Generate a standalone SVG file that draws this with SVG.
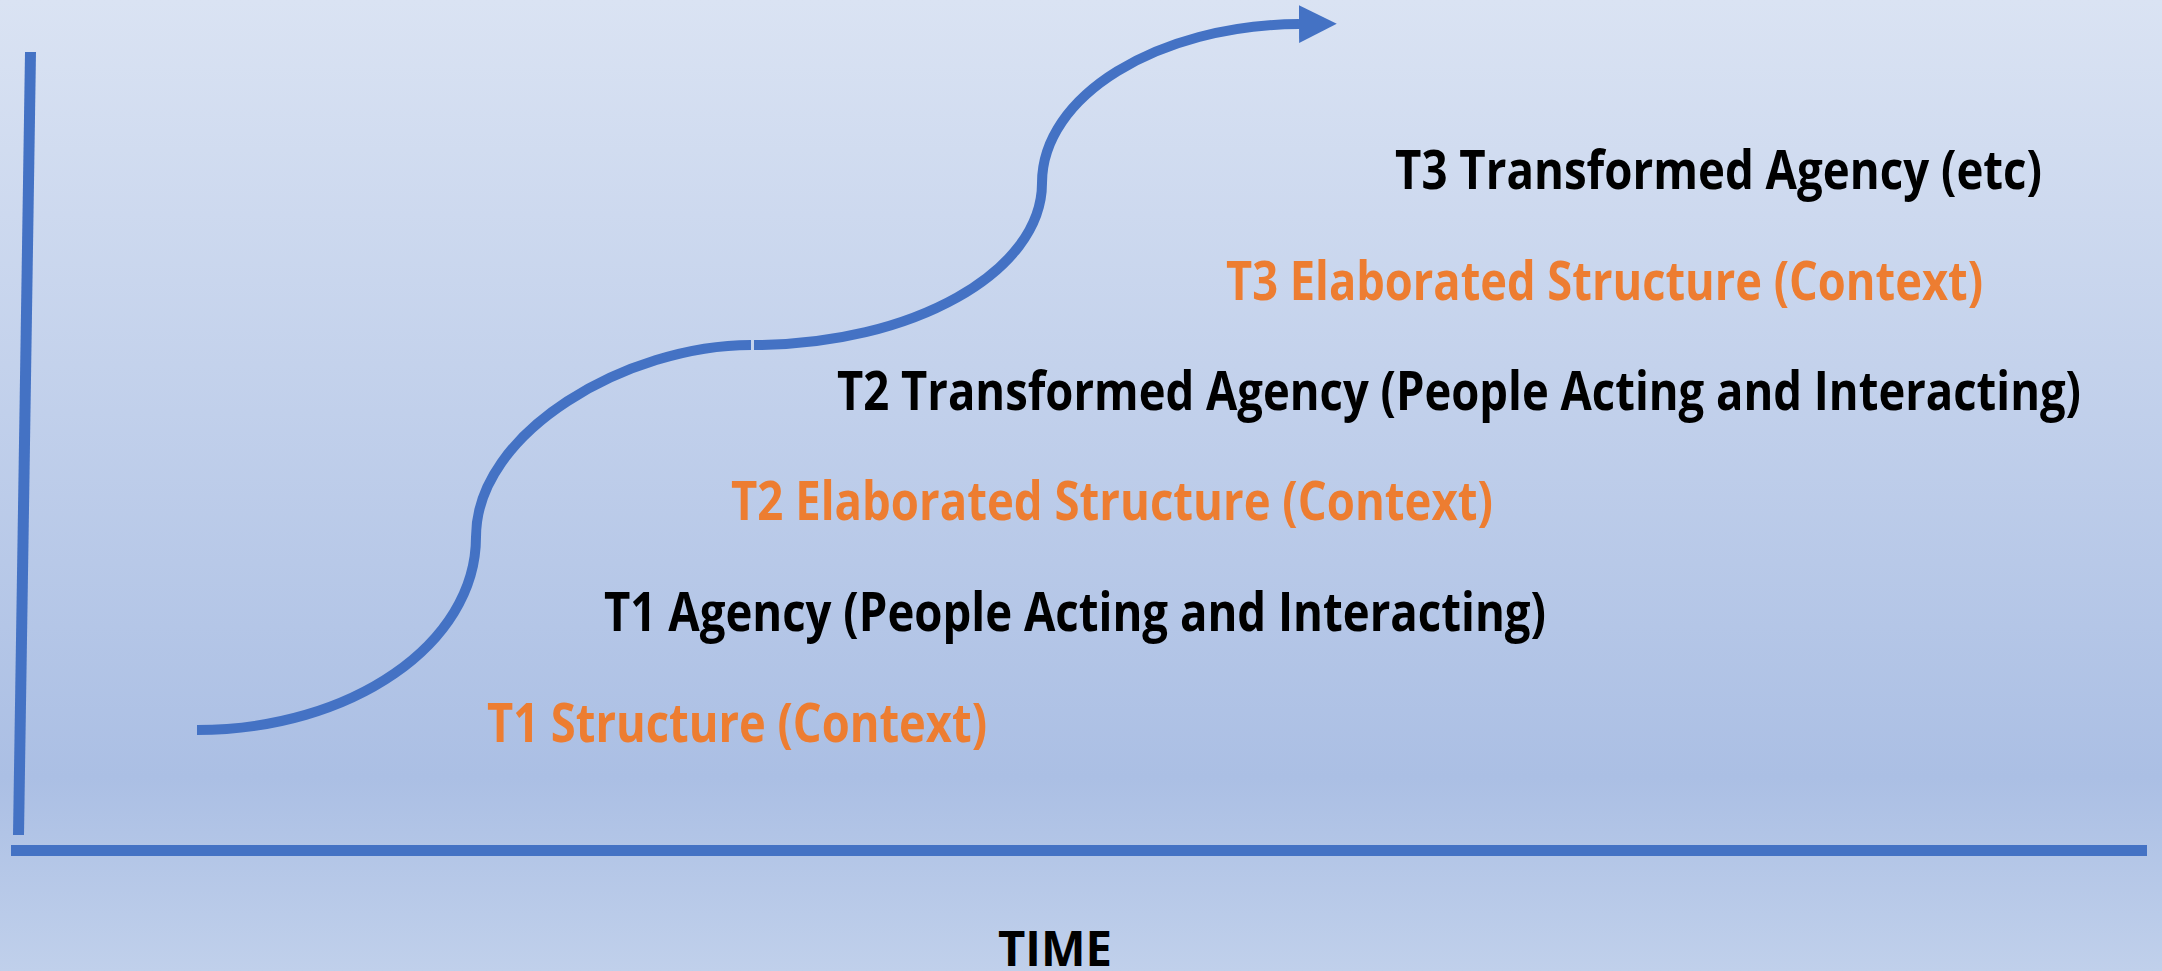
<svg xmlns="http://www.w3.org/2000/svg" width="2162" height="971" viewBox="0 0 2162 971">
<defs>
<linearGradient id="bg" x1="0" y1="0" x2="0" y2="1">
<stop offset="0" stop-color="#dae3f3"/>
<stop offset="0.8" stop-color="#abbfe4"/>
<stop offset="1" stop-color="#c0d0eb"/>
</linearGradient>
<marker id="arrow" markerUnits="userSpaceOnUse" markerWidth="40" markerHeight="40" refX="0" refY="17" orient="auto" viewBox="0 0 36 34">
<polygon points="0,0 34,17 0,34" fill="#4472c4"/>
</marker>
<style>
.axis{stroke:#4472c4;stroke-width:11;fill:none;stroke-linecap:butt}
.curve{stroke:#4472c4;stroke-width:10;fill:none;stroke-linecap:butt}
.lbl{font-family:"Open Sans","Noto Sans","Liberation Sans",sans-serif;font-weight:700;font-size:53px}
.blk{fill:#000000}
.org{fill:#ed7d31}
</style>
</defs>
<rect x="0" y="0" width="2162" height="971" fill="url(#bg)"/>
<g id="connectors">
<line class="axis" x1="30.5" y1="52" x2="18.5" y2="835"/>
<line class="axis" x1="11" y1="850.5" x2="2147" y2="850.5"/>
<path class="curve" d="M197,730 C351,730 476,644 476,537 C476,431 628,345 751,345"/>
<path class="curve" d="M754,345 C912,345 1042,272 1042,183 C1042,96 1157,25 1299,24" marker-end="url(#arrow)"/>
</g>
<g id="t3-agency"><text class="lbl blk" x="1395" y="189" textLength="647" lengthAdjust="spacingAndGlyphs">T3 Transformed Agency (etc)</text></g>
<g id="t3-structure"><text class="lbl org" x="1226" y="300" textLength="757" lengthAdjust="spacingAndGlyphs">T3 Elaborated Structure (Context)</text></g>
<g id="t2-agency"><text class="lbl blk" x="837" y="410" textLength="1244" lengthAdjust="spacingAndGlyphs">T2 Transformed Agency (People Acting and Interacting)</text></g>
<g id="t2-structure"><text class="lbl org" x="731" y="520" textLength="762" lengthAdjust="spacingAndGlyphs">T2 Elaborated Structure (Context)</text></g>
<g id="t1-agency"><text class="lbl blk" x="604" y="631" textLength="942" lengthAdjust="spacingAndGlyphs">T1 Agency (People Acting and Interacting)</text></g>
<g id="t1-structure"><text class="lbl org" x="487" y="742" textLength="500" lengthAdjust="spacingAndGlyphs">T1 Structure (Context)</text></g>
<g id="time"><text class="lbl blk" x="998" y="966" textLength="114" lengthAdjust="spacingAndGlyphs" style="font-size:48px">TIME</text></g>
</svg>
